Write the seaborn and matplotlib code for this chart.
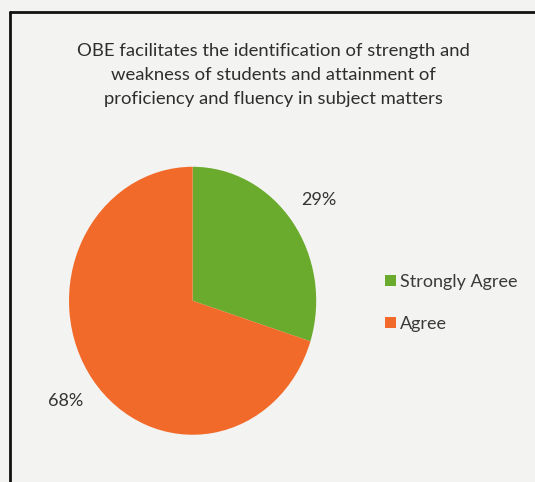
import matplotlib
matplotlib.use("Agg")
import matplotlib.pyplot as plt
import seaborn as sns
from matplotlib.lines import Line2D

# chart data
categories = ["Strongly Agree", "Agree"]
values = [29, 68]
pct_labels = ["29%", "68%"]
colors = ["#6aaa2c", "#f26a2a"]

title = ("OBE facilitates the identification of strength and\n"
         "weakness of students and attainment of\n"
         "proficiency and fluency in subject matters")

sns.set_theme(style="white")
plt.rcParams["font.family"] = ["Lato", "DejaVu Sans"]

fig = plt.figure(figsize=(5.35, 4.82), dpi=100, facecolor="#f3f3f1")

# cropped chart frame (only left and top edges visible)
fig.add_artist(Line2D([0.019, 0.019], [0.0, 0.975], color="#111111", lw=2.0))
fig.add_artist(Line2D([0.019, 1.0], [0.975, 0.975], color="#111111", lw=2.0))

fig.text(0.512, 0.845, title, ha="center", va="center", fontsize=13.3,
         color="#2e2e2e", linespacing=1.62)

ax = fig.add_axes([0.129, 0.098, 0.462, 0.556])
ax.set_facecolor("none")
wedges, texts = ax.pie(values, labels=pct_labels, colors=colors,
                       startangle=90, counterclock=False,
                       labeldistance=1.27,
                       wedgeprops={"linewidth": 0},
                       textprops={"fontsize": 13, "color": "#333333"})
for t in texts:
    t.set_horizontalalignment("center")
    t.set_verticalalignment("center")
ax.set_aspect("auto")
ax.set_xlim(-1, 1)
ax.set_ylim(-1, 1)

fig.legend(wedges, categories, loc="upper left", bbox_to_anchor=(0.69, 0.466),
           frameon=False, fontsize=13, handlelength=0.6, handleheight=0.6,
           handletextpad=0.2, labelspacing=1.45, labelcolor="#3a3a3a")

fig.savefig("out.png", dpi=100, facecolor=fig.get_facecolor())
